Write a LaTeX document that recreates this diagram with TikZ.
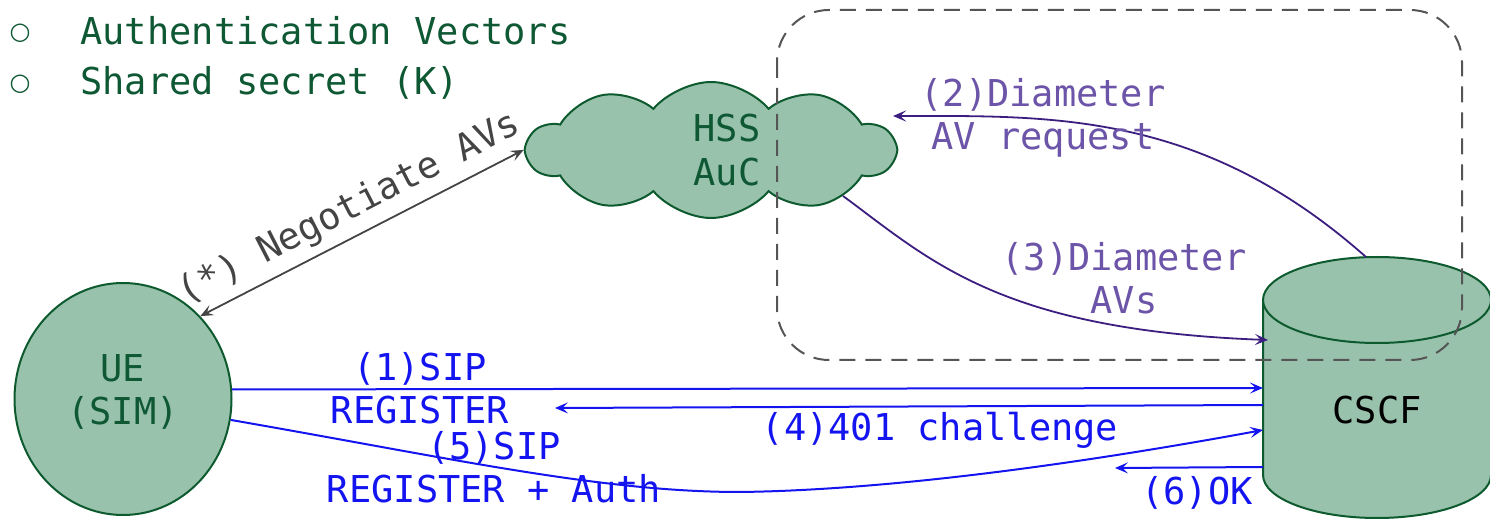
\documentclass[tikz,border=0pt]{standalone}
\usepackage{fontspec}
\setmonofont{DejaVu Sans Mono}
\newfontfamily\symfont{DejaVu Sans}
\usetikzlibrary{shapes.geometric,shapes.symbols,arrows.meta,calc}
\definecolor{nodefill}{RGB}{153,194,173}
\definecolor{nodeline}{RGB}{12,90,46}
\definecolor{darkgreen}{RGB}{14,88,52}
\definecolor{msgblue}{RGB}{20,20,240}
\definecolor{diamline}{RGB}{60,30,128}
\definecolor{diamtext}{RGB}{108,84,168}
\definecolor{negogray}{RGB}{68,68,68}
\definecolor{boxgray}{RGB}{85,85,85}
\begin{document}
\begin{tikzpicture}[x=0.5pt,y=-0.5pt,
  txt/.style={font=\ttfamily\fontsize{18.5}{21.5}\selectfont, align=center, inner sep=0pt},
  bullet/.style={font=\symfont\fontsize{12}{12}\selectfont, text=darkgreen, inner sep=0pt},
  entity/.style={fill=nodefill, draw=nodeline, line width=1pt},
  tip/.style={-{Stealth[length=6.5pt,width=5.5pt,inset=2.8pt]}},
  msg/.style={draw=msgblue, line width=1pt, tip},
  msglbl/.style={txt, text=msgblue},
  diam/.style={draw=diamline, line width=0.9pt, tip},
  diamlbl/.style={txt, text=diamtext},
  nego/.style={draw=negogray, line width=0.9pt,
    {Stealth[length=6.5pt,width=5.5pt,inset=2.8pt]}-{Stealth[length=6.5pt,width=5.5pt,inset=2.8pt]}},
  homebox/.style={draw=boxgray, line width=1pt, dash pattern=on 8pt off 5pt, rounded corners=26pt}
]
\useasboundingbox (0,0) rectangle (1490,523);

% key points of the list at the top
\node[bullet] (b1) at (20,33) {○};
\node[bullet] (b2) at (20,84) {○};
\node[txt, text=darkgreen, anchor=west] (t1) at (80,31) {Authentication Vectors};
\node[txt, text=darkgreen, anchor=west] (t2) at (80,83) {Shared secret (K)};

% HSS / AuC cloud
\node[cloud, entity, cloud puffs=10, cloud puff arc=100, cloud ignores aspect,
      minimum width=183.5pt, minimum height=68pt] (hss) at (711,150) {};
\node[txt, text=darkgreen] (hsstxt) at (727,150) {HSS\\[0.5pt]AuC};

% UE with SIM
\node[ellipse, entity, minimum width=108.5pt, minimum height=116pt] (ue) at (123,399) {};
\node[txt, text=darkgreen] (uetxt) at (123,392) {UE\\(SIM)};

% CSCF cylinder
\fill[nodefill] (1263,300) -- (1263,475) arc[start angle=180, end angle=0, x radius=114, y radius=43]
  -- (1491,300) -- cycle;
\draw[nodeline, line width=1pt] (1263,300) -- (1263,475) arc[start angle=180, end angle=0, x radius=114, y radius=43]
  -- (1491,300);
\draw[entity] (1377,300) ellipse[x radius=114, y radius=43];
\node[txt, text=black] (cscf) at (1377,410) {CSCF};

% attachment points on the cylinder
\coordinate (cTop) at (1366,257);
\coordinate (cAv)  at (1268,340);
\coordinate (cReg) at (1263,388);
\coordinate (cCh)  at (1263,405);
\coordinate (cAu)  at (1263,430);
\coordinate (cOk)  at (1263,467);
\coordinate (chEnd) at (555,408);
\coordinate (okEnd) at (1115,468);
\coordinate (auLow) at (740,492);

% SIP messages
\draw[msg] (ue.5) -- (cReg);
\node[msglbl] (l1) at (420,388) {(1)SIP\\REGISTER};
\draw[msg] (cCh) -- (chEnd);
\node[msglbl] (l4) at (940,430) {(4)401 challenge};
\draw[msg] (ue.-11) .. controls (450,458) and (600,492) .. (auLow)
  .. controls (900,490) and (1100,460) .. (cAu);
\node[msglbl] (l5) at (494,467) {(5)SIP\\REGISTER + Auth};
\draw[msg] (cOk) -- (okEnd);
\node[msglbl] (l6) at (1197,493) {(6)OK};

% Diameter exchange
\draw[diam] (cTop) .. controls (1200,110) and (1050,116) .. ($(hss.center)+(182,-34)$);
\node[diamlbl] (l2) at (1043,118) {(2)Diameter\\AV request};
\draw[diam] ($(hss.center)+(132,46)$) .. controls (930,260) and (1000,330) .. (cAv);
\node[diamlbl] (l3) at (1124,278) {(3)Diameter\\AVs};

% AV negotiation between UE and HSS
\draw[nego] (ue.47) -- node[midway, sloped, above=4pt, txt, text=negogray] {(*) Negotiate AVs} (hss.west);

% home network domain
\draw[homebox] (777,10) rectangle (1462,360);
\end{tikzpicture}
\end{document}
